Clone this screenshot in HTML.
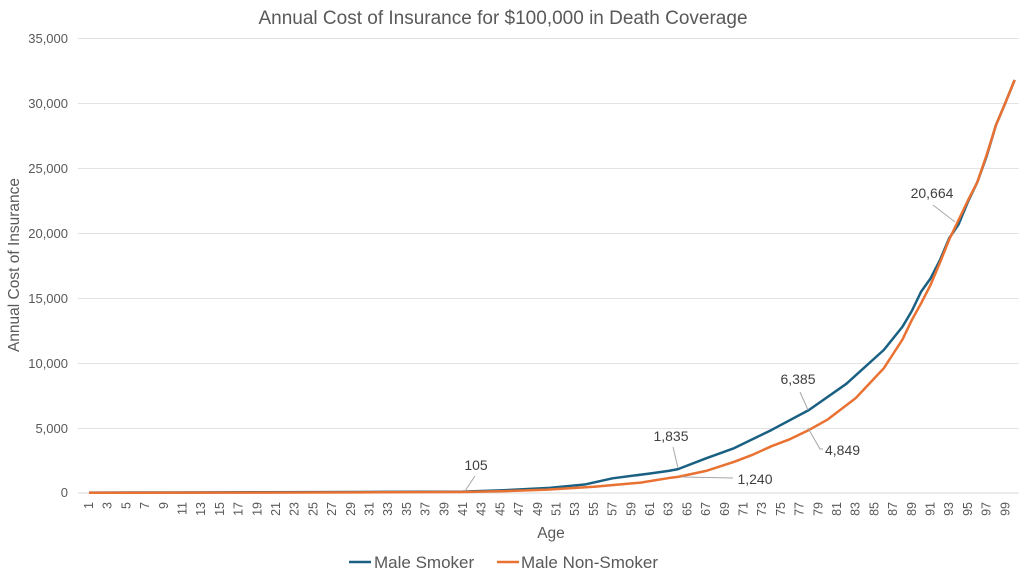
<!DOCTYPE html>
<html><head><meta charset="utf-8"><style>
html,body{margin:0;padding:0;background:#fff;}
svg{display:block;font-family:"Liberation Sans",sans-serif;}
</style></head><body>
<svg width="1024" height="579" viewBox="0 0 1024 579" xmlns="http://www.w3.org/2000/svg">
<rect width="1024" height="579" fill="#fff"/>
<text x="503" y="24" text-anchor="middle" font-size="19" fill="#595959">Annual Cost of Insurance for $100,000 in Death Coverage</text>
<g stroke="#e3e3e3" stroke-width="1">
<line x1="78" x2="1019" y1="38.5" y2="38.5"/>
<line x1="78" x2="1019" y1="103.5" y2="103.5"/>
<line x1="78" x2="1019" y1="168.5" y2="168.5"/>
<line x1="78" x2="1019" y1="233.5" y2="233.5"/>
<line x1="78" x2="1019" y1="298.5" y2="298.5"/>
<line x1="78" x2="1019" y1="363.5" y2="363.5"/>
<line x1="78" x2="1019" y1="428.5" y2="428.5"/>
</g>
<line x1="78" x2="1019" y1="493" y2="493" stroke="#d9d9d9"/>
<g font-size="13" fill="#595959" text-anchor="end">
<text x="68" y="43">35,000</text>
<text x="68" y="108">30,000</text>
<text x="68" y="173">25,000</text>
<text x="68" y="238">20,000</text>
<text x="68" y="303">15,000</text>
<text x="68" y="368">10,000</text>
<text x="68" y="433">5,000</text>
<text x="68" y="497">0</text>
</g>
<text transform="translate(19,265) rotate(-90)" text-anchor="middle" font-size="15.5" fill="#595959">Annual Cost of Insurance</text>
<text x="551" y="538" text-anchor="middle" font-size="15.5" fill="#595959">Age</text>
<g font-size="12.5" fill="#595959" text-anchor="end">
<text transform="translate(93,502) rotate(-90)">1</text>
<text transform="translate(111.7,502) rotate(-90)">3</text>
<text transform="translate(130.4,502) rotate(-90)">5</text>
<text transform="translate(149.1,502) rotate(-90)">7</text>
<text transform="translate(167.8,502) rotate(-90)">9</text>
<text transform="translate(186.5,502) rotate(-90)">11</text>
<text transform="translate(205.2,502) rotate(-90)">13</text>
<text transform="translate(223.9,502) rotate(-90)">15</text>
<text transform="translate(242.6,502) rotate(-90)">17</text>
<text transform="translate(261.3,502) rotate(-90)">19</text>
<text transform="translate(280,502) rotate(-90)">21</text>
<text transform="translate(298.7,502) rotate(-90)">23</text>
<text transform="translate(317.4,502) rotate(-90)">25</text>
<text transform="translate(336.1,502) rotate(-90)">27</text>
<text transform="translate(354.8,502) rotate(-90)">29</text>
<text transform="translate(373.5,502) rotate(-90)">31</text>
<text transform="translate(392.2,502) rotate(-90)">33</text>
<text transform="translate(410.9,502) rotate(-90)">35</text>
<text transform="translate(429.6,502) rotate(-90)">37</text>
<text transform="translate(448.3,502) rotate(-90)">39</text>
<text transform="translate(467,502) rotate(-90)">41</text>
<text transform="translate(485.7,502) rotate(-90)">43</text>
<text transform="translate(504.4,502) rotate(-90)">45</text>
<text transform="translate(523.1,502) rotate(-90)">47</text>
<text transform="translate(541.8,502) rotate(-90)">49</text>
<text transform="translate(560.5,502) rotate(-90)">51</text>
<text transform="translate(579.2,502) rotate(-90)">53</text>
<text transform="translate(597.9,502) rotate(-90)">55</text>
<text transform="translate(616.6,502) rotate(-90)">57</text>
<text transform="translate(635.3,502) rotate(-90)">59</text>
<text transform="translate(654,502) rotate(-90)">61</text>
<text transform="translate(672.7,502) rotate(-90)">63</text>
<text transform="translate(691.4,502) rotate(-90)">65</text>
<text transform="translate(710.1,502) rotate(-90)">67</text>
<text transform="translate(728.8,502) rotate(-90)">69</text>
<text transform="translate(747.5,502) rotate(-90)">71</text>
<text transform="translate(766.2,502) rotate(-90)">73</text>
<text transform="translate(784.9,502) rotate(-90)">75</text>
<text transform="translate(803.6,502) rotate(-90)">77</text>
<text transform="translate(822.3,502) rotate(-90)">79</text>
<text transform="translate(841,502) rotate(-90)">81</text>
<text transform="translate(859.7,502) rotate(-90)">83</text>
<text transform="translate(878.4,502) rotate(-90)">85</text>
<text transform="translate(897.1,502) rotate(-90)">87</text>
<text transform="translate(915.8,502) rotate(-90)">89</text>
<text transform="translate(934.5,502) rotate(-90)">91</text>
<text transform="translate(953.2,502) rotate(-90)">93</text>
<text transform="translate(971.9,502) rotate(-90)">95</text>
<text transform="translate(990.6,502) rotate(-90)">97</text>
<text transform="translate(1009.3,502) rotate(-90)">99</text>
</g>
<g transform="translate(79.65,493) scale(9.35,-0.013)" fill="none" stroke-linejoin="round">
<polyline vector-effect="non-scaling-stroke" stroke="#1a6082" stroke-width="2.5" points="1,30 10,40 20,60 30,80 41,105 45,200 50,380 54,650 57,1130 61,1500 63,1700 64,1835 67,2670 70,3450 74,4850 78,6385 82,8400 86,11000 88,12790 89,14000 90,15490 91,16500 92,17900 93,19600 94,20664 95,22400 96,23900 97,25900 98,28300 99,30000 100,31770"/>
<polyline vector-effect="non-scaling-stroke" stroke="#e97132" stroke-width="2.5" points="1,20 20,30 30,50 41,80 45,130 50,260 55,480 60,800 63,1150 64,1240 67,1700 70,2400 72,2950 74,3600 76,4150 78,4849 80,5650 83,7300 86,9590 88,11800 89,13300 90,14600 91,16000 92,17700 93,19500 94,21000 95,22500 96,23900 97,26000 98,28300 99,30000 100,31770"/>
</g>
<g stroke="#a6a6a6" stroke-width="1" fill="none">
<line x1="475" y1="476" x2="465" y2="491"/>
<line x1="673" y1="447" x2="678" y2="468"/>
<line x1="682" y1="477" x2="733" y2="478"/>
<line x1="800" y1="392" x2="808" y2="410"/>
<polyline points="808,428 820,449 823,449"/>
<line x1="933" y1="205" x2="955" y2="222"/>
</g>
<g font-size="14" fill="#404040">
<text x="476" y="470" text-anchor="middle">105</text>
<text x="671" y="441" text-anchor="middle">1,835</text>
<text x="755" y="484" text-anchor="middle">1,240</text>
<text x="798" y="384" text-anchor="middle">6,385</text>
<text x="825" y="455">4,849</text>
<text x="932" y="198" text-anchor="middle">20,664</text>
</g>
<line x1="349" x2="371" y1="562" y2="562" stroke="#1a6082" stroke-width="2.5"/>
<text x="374" y="568" font-size="17" fill="#595959">Male Smoker</text>
<line x1="497" x2="519" y1="562" y2="562" stroke="#e97132" stroke-width="2.5"/>
<text x="521" y="568" font-size="17" fill="#595959">Male Non-Smoker</text>
</svg>
</body></html>
